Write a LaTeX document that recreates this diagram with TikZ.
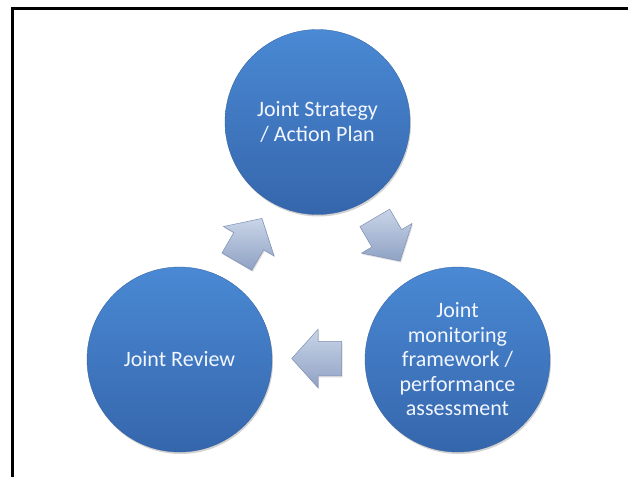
\documentclass[tikz,border=0pt]{standalone}
\usepackage{fontspec}
\setmainfont{Carlito}
\usetikzlibrary{shapes.arrows,shadows,calc}
\definecolor{ctop}{HTML}{4A89D4}
\definecolor{cbot}{HTML}{3566AC}
\definecolor{txt}{HTML}{F2F6FF}
\definecolor{atop}{HTML}{C9D4E7}
\definecolor{abot}{HTML}{8FA2C4}
\definecolor{aedge}{HTML}{7E90B4}
\tikzset{
  phase/.style={circle, minimum size=185pt, inner sep=0pt,
    top color=ctop, bottom color=cbot, draw=cbot!92!black, line width=0.3pt,
    drop shadow={opacity=0.35, shadow xshift=1pt, shadow yshift=-2pt},
    text=txt, align=center, font=\fontsize{22pt}{24.5pt}\selectfont},
  blockarrow/.style={single arrow, minimum height=50pt, inner xsep=0pt, inner ysep=17pt,
    single arrow head extend=12pt, single arrow tip angle=96,
    top color=atop, bottom color=abot, draw=aedge, line width=0.5pt,
    drop shadow={opacity=0.25, shadow xshift=1pt, shadow yshift=-1.5pt}},
  frameline/.style={line width=3pt, black}
}
\begin{document}
\begin{tikzpicture}[x=1pt,y=-1pt]
\useasboundingbox (0,0) rectangle (628,477);
\fill[white] (0,0) rectangle (628,477);
\coordinate (fr1) at (628,8.5);
\coordinate (fr2) at (12.5,8.5);
\coordinate (fr3) at (12.5,477);
\draw[frameline] (fr1) -- (fr2) -- (fr3);
\node[phase] (top) at (317.5,122) {Joint Strategy\\/ Action Plan};
\node[phase] (rgt) at (457.5,359.5) {Joint\\monitoring\\framework /\\performance\\assessment};
\node[phase] (lft) at (179.5,359.5) {Joint Review};
\node[blockarrow, rotate=-59.6] (a1) at ($(top)!0.5!(rgt)+(-4,-8)$) {};
\node[blockarrow, rotate=180] (a2) at ($(rgt)!0.5!(lft)+(6,-1)$) {};
\node[blockarrow, rotate=59.9] (a3) at ($(lft)!0.5!(top)+(-3,6)$) {};
\end{tikzpicture}
\end{document}
